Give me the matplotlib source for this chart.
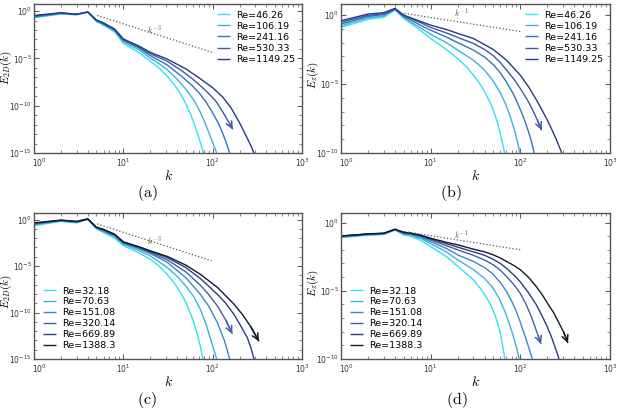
import numpy as np
import matplotlib
matplotlib.use("Agg")
import matplotlib.pyplot as plt
import matplotlib.transforms as mtransforms

plt.rcParams['mathtext.fontset'] = 'cm'
plt.rcParams['font.family'] = ['DejaVu Sans']

# ---------------- data (log10 of E) ----------------
k_lo = [1, 2, 3, 4, 5, 6, 8, 10, 15]

# panel (a): E_2D
re_a = ['46.26', '106.19', '241.16', '530.33', '1149.25']
lo_a = [[-0.70, -0.30, -0.40, -0.12, -1.10, -1.50, -2.20, -3.40, -4.40],
        [-0.65, -0.27, -0.37, -0.11, -1.05, -1.42, -2.10, -3.25, -4.10],
        [-0.58, -0.23, -0.35, -0.10, -1.00, -1.35, -2.00, -3.10, -3.90],
        [-0.52, -0.20, -0.33, -0.10, -0.97, -1.30, -1.95, -3.00, -3.80],
        [-0.46, -0.18, -0.32, -0.10, -0.95, -1.25, -1.90, -2.95, -3.70]]
khi_a = [[20, 25, 31, 38, 44, 50, 56, 62, 68, 74, 79],
         [20, 25, 31, 40, 50, 62, 72, 82, 92, 102, 111],
         [20, 31, 45, 60, 72, 84, 100, 115, 130, 143, 155],
         [20, 31, 45, 60, 75, 90, 108, 125, 140, 155, 168],
         [20, 31, 50, 73, 100, 130, 160, 200, 240, 270, 290]]
hi_a = [[-5.30, -6.00, -6.90, -7.90, -8.80, -9.80, -10.8, -11.9, -13.0, -14.1, -15.0],
        [-4.96, -5.55, -6.20, -7.20, -8.25, -9.45, -10.6, -11.8, -13.0, -14.1, -15.0],
        [-4.70, -5.70, -6.90, -7.95, -8.75, -9.60, -10.75, -11.8, -12.95, -14.0, -15.0],
        [-4.50, -5.30, -6.30, -7.20, -8.00, -8.70, -9.50, -10.4, -11.2, -11.9, -12.5],
        [-4.36, -5.07, -6.10, -7.16, -8.10, -9.10, -10.2, -11.8, -13.3, -14.3, -15.0]]
ref_a_k = [5.1, 99]
ref_a_E = [-0.46, -4.36]

# panel (b): E_z
re_b = re_a
lo_b = [[-0.90, -0.31, -0.17, 0.36, -0.24, -0.60, -1.20, -1.70, -2.50],
        [-0.78, -0.20, -0.07, 0.40, -0.17, -0.50, -1.00, -1.40, -2.00],
        [-0.65, -0.10, 0.03, 0.43, -0.10, -0.35, -0.80, -1.10, -1.60],
        [-0.52, -0.02, 0.10, 0.46, -0.04, -0.25, -0.60, -0.90, -1.30],
        [-0.41, 0.07, 0.17, 0.48, 0.00, -0.20, -0.50, -0.73, -1.05]]
khi_b = [[20, 25, 30, 35, 40, 45, 50, 55, 58, 61, 64, 67],
         [20, 30, 40, 50, 60, 70, 78, 86, 93, 99],
         [20, 30, 40, 50, 60, 70, 85, 100, 112, 124, 134, 143],
         [20, 30, 40, 50, 60, 70, 85, 100, 120, 140, 157, 173],
         [20, 30, 50, 70, 100, 125, 150, 175, 200, 225, 250, 270, 290]]
hi_b = [[-3.15, -3.75, -4.36, -4.95, -5.55, -6.20, -6.90, -7.70, -8.25, -8.85, -9.45, -10.0],
        [-2.54, -3.27, -4.00, -4.80, -5.65, -6.60, -7.45, -8.35, -9.20, -10.0],
        [-2.00, -2.54, -3.05, -3.60, -4.20, -4.85, -5.80, -6.85, -7.65, -8.50, -9.25, -10.0],
        [-1.62, -2.06, -2.50, -2.95, -3.45, -3.98, -4.65, -5.33, -6.15, -7.00, -7.70, -8.35],
        [-1.33, -1.70, -2.50, -3.27, -4.36, -5.25, -6.12, -6.90, -7.62, -8.31, -8.97, -9.50, -10.0]]
ref_b_k = [5.1, 103]
ref_b_E = [0.12, -1.21]

# panel (c): E_2D, second set
re_c = ['32.18', '70.63', '151.08', '320.14', '669.89', '1388.3']
lo_c = [[-0.65, -0.20, -0.36, 0.00, -1.00, -1.40, -2.00, -2.80, -3.60],
        [-0.58, -0.16, -0.32, 0.02, -0.95, -1.30, -1.85, -2.65, -3.35],
        [-0.50, -0.13, -0.28, 0.04, -0.90, -1.22, -1.75, -2.55, -3.15],
        [-0.45, -0.10, -0.25, 0.05, -0.87, -1.15, -1.68, -2.48, -3.05],
        [-0.40, -0.08, -0.22, 0.06, -0.85, -1.10, -1.62, -2.43, -2.98],
        [-0.36, -0.07, -0.20, 0.07, -0.83, -1.05, -1.58, -2.40, -2.93]]
khi_c = [[20, 25, 31, 38, 44, 50, 56, 62, 68, 73, 78],
         [20, 31, 40, 50, 62, 73, 84, 95, 103, 111],
         [20, 31, 50, 73, 90, 113, 135, 145, 155],
         [20, 31, 50, 73, 90, 113, 140, 166],
         [20, 31, 50, 73, 113, 140, 173, 205, 244, 268, 290],
         [20, 31, 50, 73, 113, 173, 215, 266, 330]]
hi_c = [[-4.26, -5.00, -5.90, -6.95, -7.90, -8.90, -10.0, -11.2, -12.5, -13.7, -15.0],
        [-3.90, -5.16, -6.10, -7.15, -8.35, -9.70, -11.2, -12.9, -14.0, -15.0],
        [-3.65, -4.60, -6.25, -8.05, -9.30, -11.1, -13.0, -14.0, -15.0],
        [-3.54, -4.33, -5.63, -7.08, -8.05, -9.30, -10.8, -12.3],
        [-3.43, -4.10, -5.16, -6.35, -8.05, -9.00, -10.2, -11.4, -12.7, -13.8, -15.0],
        [-3.36, -3.97, -4.90, -5.90, -7.30, -9.10, -10.2, -11.5, -13.1]]
ref_c_k = [5.1, 97]
ref_c_E = [-0.47, -4.44]

# panel (d): E_z, second set
re_d = re_c
lo_d = [[-1.10, -0.93, -0.88, -0.55, -0.90, -1.00, -1.35, -1.76, -2.50],
        [-1.07, -0.90, -0.85, -0.53, -0.85, -0.92, -1.20, -1.55, -2.15],
        [-1.04, -0.87, -0.82, -0.52, -0.80, -0.86, -1.10, -1.40, -1.90],
        [-1.01, -0.85, -0.80, -0.50, -0.76, -0.82, -1.03, -1.28, -1.70],
        [-0.99, -0.84, -0.79, -0.50, -0.73, -0.79, -0.98, -1.20, -1.55],
        [-0.98, -0.83, -0.78, -0.49, -0.71, -0.77, -0.95, -1.15, -1.45]]
khi_d = [[20, 30, 36, 42, 48, 53, 58, 61, 64, 67],
         [20, 30, 40, 49, 58, 68, 77, 85, 91, 97],
         [20, 30, 40, 49, 60, 70, 80, 90, 98, 110, 120, 129, 136],
         [20, 30, 40, 50, 60, 70, 85, 100, 115, 130, 145, 158, 170],
         [20, 30, 40, 50, 60, 70, 85, 100, 125, 150, 175, 200, 220, 240, 255, 270],
         [20, 30, 40, 50, 60, 70, 85, 100, 125, 150, 175, 200, 235, 270, 305, 340]]
hi_d = [[-3.20, -4.20, -4.85, -5.50, -6.20, -6.90, -7.75, -8.40, -9.15, -10.0],
        [-2.73, -3.45, -4.10, -4.75, -5.55, -6.60, -7.60, -8.50, -9.20, -10.0],
        [-2.37, -2.85, -3.30, -3.75, -4.40, -5.05, -5.75, -6.50, -7.15, -8.10, -8.85, -9.50, -10.0],
        [-2.00, -2.40, -2.75, -3.10, -3.50, -3.95, -4.55, -5.20, -5.95, -6.75, -7.60, -8.30, -8.90],
        [-1.80, -2.15, -2.40, -2.70, -3.00, -3.35, -3.85, -4.35, -5.20, -6.00, -6.85, -7.65, -8.30, -9.00, -9.50, -10.0],
        [-1.63, -1.95, -2.15, -2.37, -2.60, -2.85, -3.15, -3.46, -4.05, -4.68, -5.28, -5.90, -6.60, -7.37, -8.05, -8.83]]
ref_d_k = [5.1, 100]
ref_d_E = [-0.66, -2.00]

colors5 = ['#2fe3f2', '#3fb2d8', '#2f74c2', '#41599f', '#283a7c']
colors6 = ['#2fe3f2', '#3fb2d8', '#3d86c8', '#4161a6', '#2c3d80', '#141a2c']

# ---------------- figure ----------------
W, H = 617, 412
fig = plt.figure(figsize=(W / 100, H / 100), dpi=100)


def px_axes(l, t, r, b):
    return fig.add_axes([l / W, 1 - b / H, (r - l) / W, (b - t) / H])


panels = [
    dict(box=(34, 4, 302, 153), re=re_a, lo=lo_a, khi=khi_a, hi=hi_a, cols=colors5,
         ylim=(1e-15, 10 ** 0.75), yt=[1e0, 1e-5, 1e-10, 1e-15], refk=ref_a_k, refE=ref_a_E,
         lab=r'$k^{-3}$', labpos=(22, 10 ** -1.9), ylabel=r'$E_{2D}(k)$', yl=0.57,
         leg='upper right', arrows=[3], cap='(a)', capxy=(147, 193)),
    dict(box=(341, 4, 610, 153), re=re_b, lo=lo_b, khi=khi_b, hi=hi_b, cols=colors5,
         ylim=(1e-10, 10 ** 0.8), yt=[1e0, 1e-5, 1e-10], refk=ref_b_k, refE=ref_b_E,
         lab=r'$k^{-1}$', labpos=(22, 10 ** 0.15), ylabel=r'$E_{z}(k)$', yl=0.52,
         leg='upper right', arrows=[3], cap='(b)', capxy=(451, 193)),
    dict(box=(34, 213, 302, 359), re=re_c, lo=lo_c, khi=khi_c, hi=hi_c, cols=colors6,
         ylim=(1e-15, 10 ** 0.7), yt=[1e0, 1e-5, 1e-10, 1e-15], refk=ref_c_k, refE=ref_c_E,
         lab=r'$k^{-3}$', labpos=(22, 10 ** -2.3), ylabel=r'$E_{2D}(k)$', yl=0.46,
         leg='lower left', arrows=[3, 5], cap='(c)', capxy=(147, 400)),
    dict(box=(341, 213, 610, 359), re=re_d, lo=lo_d, khi=khi_d, hi=hi_d, cols=colors6,
         ylim=(1e-10, 10 ** 0.7), yt=[1e0, 1e-5, 1e-10], refk=ref_d_k, refE=ref_d_E,
         lab=r'$k^{-1}$', labpos=(22, 10 ** -0.85), ylabel=r'$E_{z}(k)$', yl=0.52,
         leg='lower left', arrows=[3, 5], cap='(d)', capxy=(457, 400)),
]

spine_col = '#555555'
tick_col = '#333333'

for p in panels:
    ax = px_axes(*p['box'])
    ax.set_xscale('log')
    ax.set_yscale('log')
    for i, (re, col) in enumerate(zip(p['re'], p['cols'])):
        k = np.array(k_lo + p['khi'][i], dtype=float)
        E = 10.0 ** np.array(p['lo'][i] + p['hi'][i])
        ax.plot(k, E, color=col, lw=1.0, label='Re=' + re, solid_capstyle='butt')
        if i in p['arrows']:
            ax.annotate('', xy=(k[-1], E[-1]), xytext=(k[-2], E[-2]),
                        arrowprops=dict(arrowstyle='->,head_length=0.45,head_width=0.22',
                                        color=col, lw=1.1, mutation_scale=10,
                                        shrinkA=0, shrinkB=0))
    ax.plot(p['refk'], 10.0 ** np.array(p['refE']), ls=':', color='#555555', lw=0.9)
    ax.text(p['labpos'][0], p['labpos'][1], p['lab'], fontsize=6, color='#555555',
            ha='center', va='center')
    ax.set_xlim(1, 1000)
    ax.set_ylim(*p['ylim'])
    ax.set_yticks(p['yt'])
    ax.yaxis.set_minor_locator(matplotlib.ticker.LogLocator(base=10, subs=(1.0,), numticks=30))
    ax.yaxis.set_minor_formatter(matplotlib.ticker.NullFormatter())
    ax.set_xticks([1, 10, 100, 1000])
    ax.tick_params(which='both', direction='in', top=True, right=True, color=spine_col,
                   labelsize=5.5, labelcolor=tick_col)
    ax.tick_params(axis='x', pad=2.5)
    ax.tick_params(axis='y', pad=1.5)
    ax.tick_params(which='major', length=3.5, width=0.7)
    ax.tick_params(which='minor', length=2, width=0.5)
    # nudge the first x tick label so it does not collide with the lowest y tick label
    first = ax.xaxis.get_major_ticks()[0].label1
    first.set_horizontalalignment('left')
    first.set_transform(first.get_transform() +
                        mtransforms.ScaledTranslation(-1.5 / 72, 0, fig.dpi_scale_trans))
    for s in ax.spines.values():
        s.set_color(spine_col)
        s.set_linewidth(1.0)
    ax.set_xlabel(r'$k$', fontsize=10, labelpad=0)
    ax.set_ylabel(p['ylabel'], fontsize=8)
    ax.yaxis.set_label_coords(-0.074, p['yl'])
    if p['leg'] == 'upper right':
        ax.legend(loc='upper right', frameon=False, fontsize=6.8, handlelength=1.4,
                  handletextpad=0.65, labelspacing=0.22, borderaxespad=0.3, borderpad=0.4)
    else:
        ax.legend(loc='lower left', frameon=False, fontsize=6.8, handlelength=1.4,
                  handletextpad=0.65, labelspacing=0.2, borderaxespad=0.55, borderpad=0.4)
    fig.text(p['capxy'][0] / W, 1 - p['capxy'][1] / H, r'$\mathrm{' + p['cap'] + '}$',
             fontsize=11.5, ha='center', va='center')

fig.savefig('out.png', dpi=100)
